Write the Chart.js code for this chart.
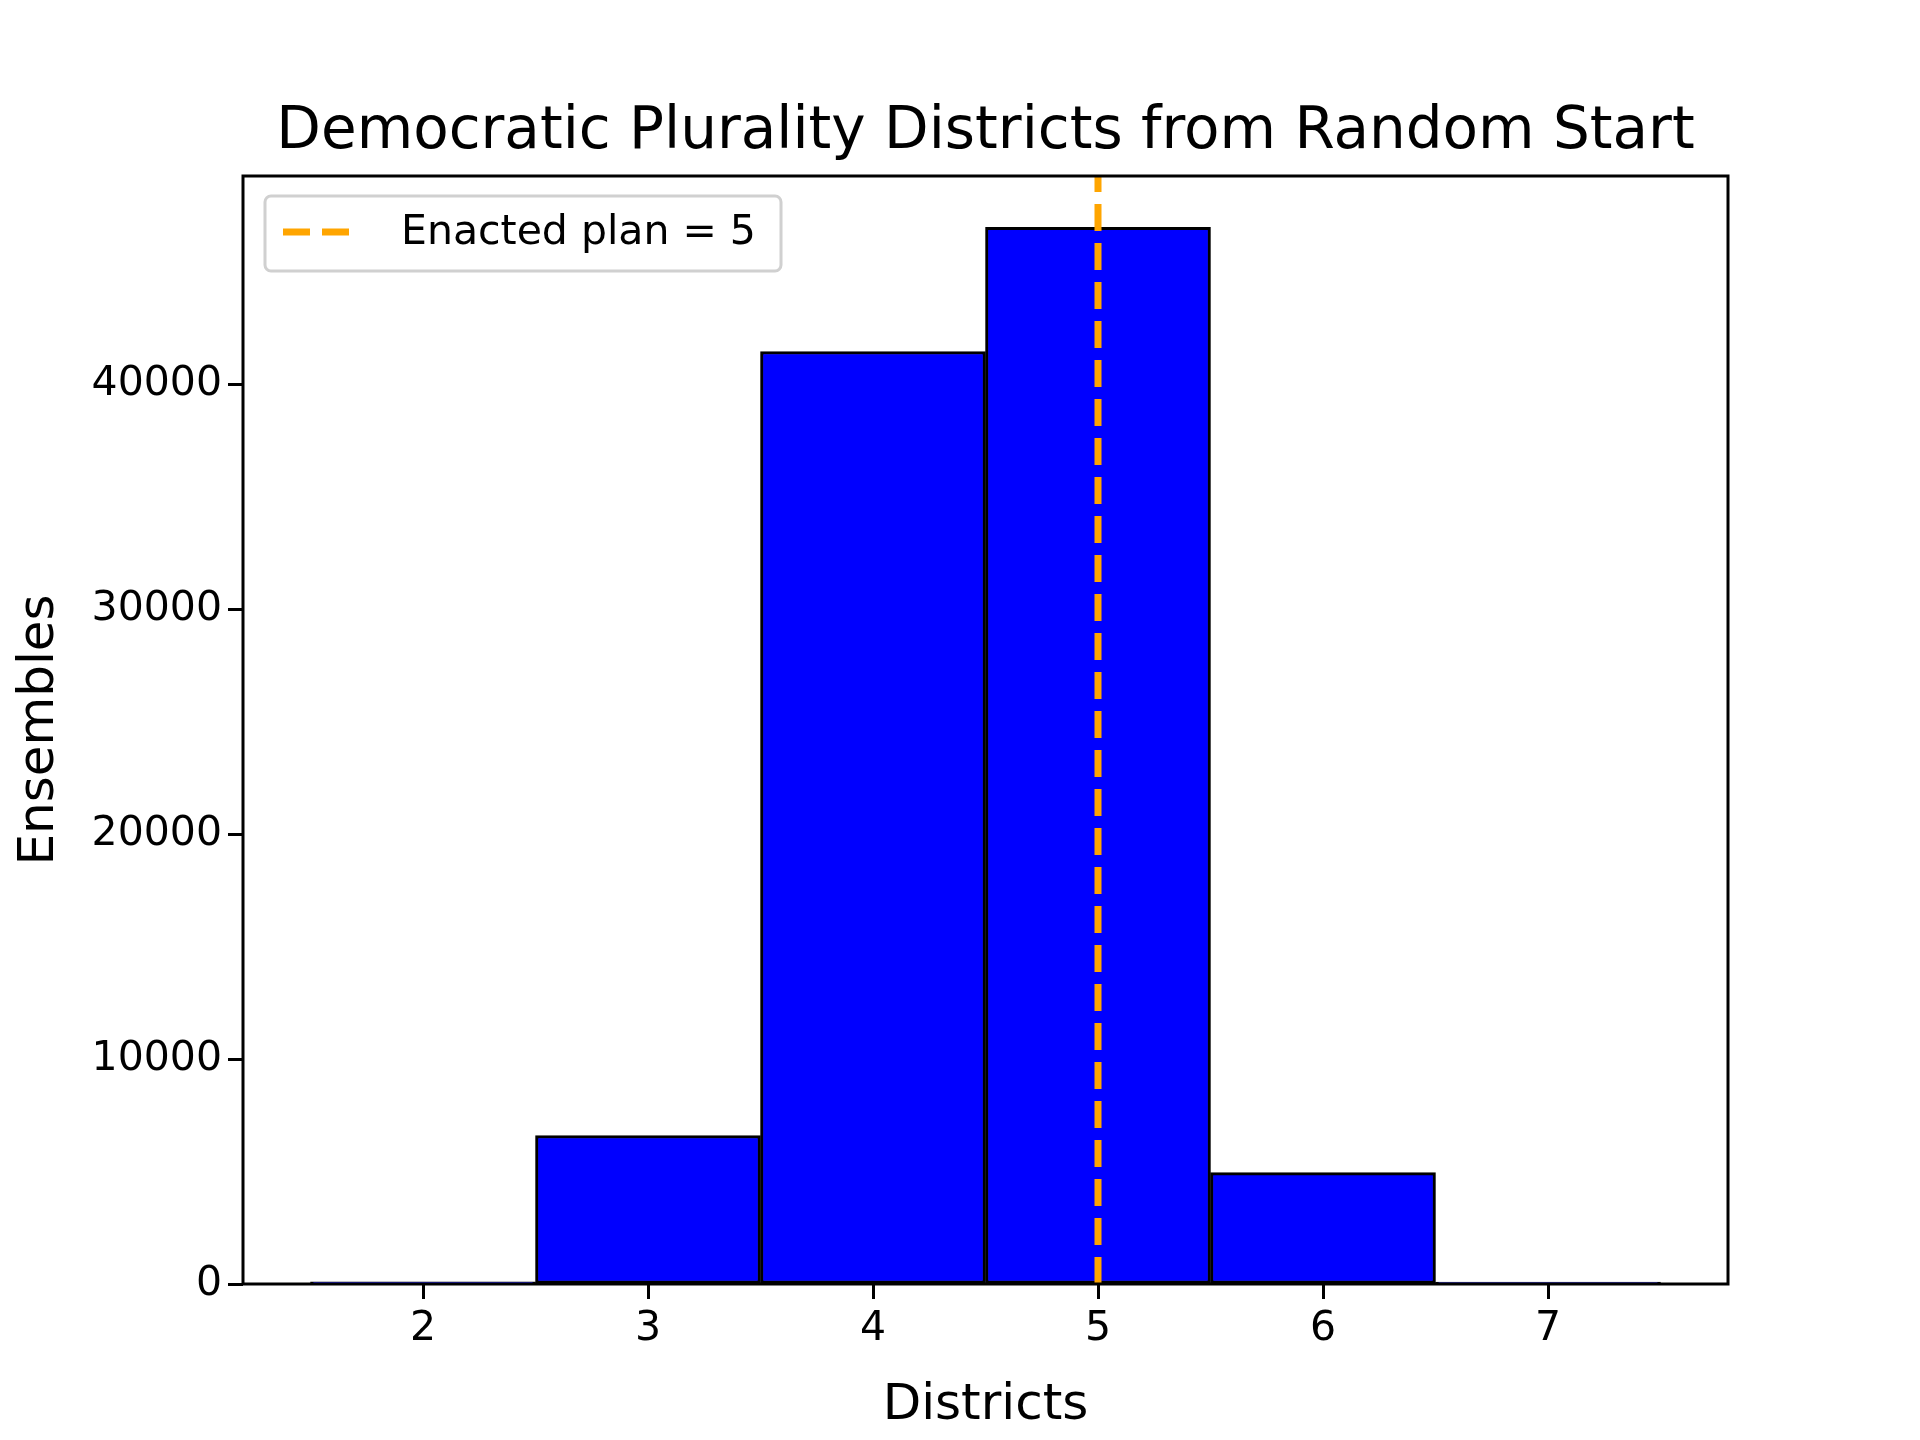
<!DOCTYPE html>
<html>
<head>
<script src="https://cdn.jsdelivr.net/npm/chart.js@4"></script>
<style>body{margin:0;background:#fff}</style>
</head>
<body>
<canvas id="c" width="1920" height="1440"></canvas>
<script>
const districts = [2, 3, 4, 5, 6, 7];
const counts = [100, 6600, 41450, 46970, 4950, 80];
const enacted = 5;
const yMax = 49250;
const xTicks = [2, 3, 4, 5, 6, 7];
const yTicks = [0, 10000, 20000, 30000, 40000];

const font = 'DejaVu Sans';

const decorations = {
  id: 'decorations',
  afterDraw(chart) {
    const {ctx, chartArea: a} = chart;
    ctx.save();
    ctx.strokeStyle = '#000';
    ctx.lineWidth = 3;
    ctx.strokeRect(a.left, a.top, a.right - a.left, a.bottom - a.top);
    ctx.fillStyle = '#000';
    ctx.font = `58px "${font}"`;
    ctx.textAlign = 'center';
    ctx.fillText('Democratic Plurality Districts from Random Start', (a.left + a.right) / 2, 148);
    // legend
    ctx.fillStyle = 'rgba(255,255,255,0.8)';
    ctx.strokeStyle = '#d0d0d0';
    ctx.lineWidth = 3;
    ctx.beginPath();
    ctx.roundRect(265, 196, 516, 75, 6);
    ctx.fill();
    ctx.stroke();
    ctx.strokeStyle = '#ffa500';
    ctx.lineWidth = 7;
    ctx.setLineDash([27, 12]);
    ctx.beginPath();
    ctx.moveTo(283, 232);
    ctx.lineTo(360, 232);
    ctx.stroke();
    ctx.setLineDash([]);
    ctx.fillStyle = '#000';
    ctx.font = `41px "${font}"`;
    ctx.textAlign = 'left';
    ctx.textBaseline = 'middle';
    ctx.fillText('Enacted plan = ' + enacted, 401, 233);
    ctx.restore();
  }
};

new Chart(document.getElementById('c'), {
  data: {
    datasets: [{
      type: 'bar',
      data: districts.map((d, i) => ({x: d, y: counts[i]})),
      backgroundColor: '#0000ff',
      borderColor: '#000',
      borderWidth: 3,
      borderSkipped: false,
      barPercentage: 1,
      categoryPercentage: 1,
      order: 2
    }, {
      type: 'line',
      data: [{x: enacted, y: 0}, {x: enacted, y: yMax}],
      borderColor: '#ffa500',
      borderWidth: 7,
      borderDash: [27, 12],
      pointRadius: 0,
      order: 1
    }]
  },
  options: {
    responsive: false,
    animation: false,
    layout: {padding: {top: 176, right: 192, left: 0, bottom: 0}},
    plugins: {legend: {display: false}, tooltip: {enabled: false}},
    scales: {
      x: {
        type: 'linear',
        min: 1.2,
        max: 7.8,
        offset: false,
        afterFit(s) { s.height = 156; },
        afterBuildTicks(s) { s.ticks = xTicks.map(v => ({value: v})); },
        grid: {drawOnChartArea: false, offset: false, tickLength: 15, color: '#000', tickWidth: 3},
        border: {display: false},
        ticks: {color: '#000', font: {family: font, size: 41}, padding: 6},
        title: {display: true, text: 'Districts', color: '#000', font: {family: font, size: 50}, padding: {top: 0, bottom: 4}}
      },
      y: {
        min: 0,
        max: yMax,
        afterFit(s) { s.width = 243; },
        afterBuildTicks(s) { s.ticks = yTicks.map(v => ({value: v})); },
        grid: {drawOnChartArea: false, tickLength: 15, color: '#000', tickWidth: 3},
        border: {display: false},
        ticks: {color: '#000', font: {family: font, size: 41}, padding: 6, callback: v => String(v)},
        title: {display: true, text: 'Ensembles', color: '#000', font: {family: font, size: 50}, padding: {top: 10, bottom: 0}}
      }
    }
  },
  plugins: [decorations]
});
</script>
</body>
</html>
